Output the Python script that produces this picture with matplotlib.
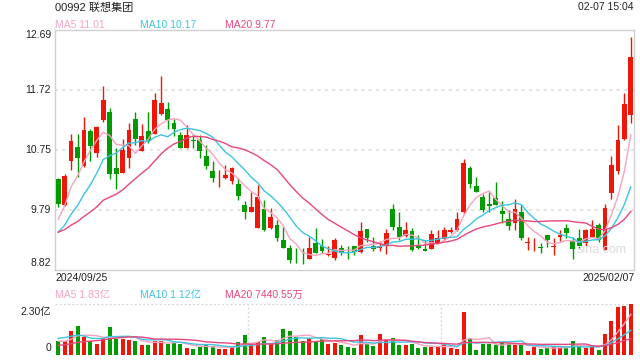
import numpy as np
import matplotlib.pyplot as plt

plt.rcParams['font.family'] = ['Liberation Sans', 'Noto Sans CJK SC', 'DejaVu Sans']

# ---------------- data ----------------
opens = [10.29, 9.87, 10.58, 10.80, 10.50, 11.06, 10.71, 11.24, 11.37, 10.47,
         10.39, 10.63, 11.26, 10.74, 11.06, 11.01, 11.34, 11.42, 11.19, 11.00,
         10.79, 10.91, 10.91, 10.66, 10.42, 10.28, 10.31, 10.26, 10.21, 9.87,
         9.75, 9.50, 9.80, 9.50, 9.55, 9.30, 9.17, 9.05, 9.00, 9.00,
         9.25, 9.20, 9.06, 9.02, 9.17, 9.13, 9.20, 9.11, 9.48, 9.21,
         9.17, 9.20, 9.80, 9.52, 9.37, 9.45, 9.20, 9.16, 9.16, 9.25,
         9.32, 9.43, 9.47, 9.76, 10.46, 10.18, 10.00, 9.89, 9.98, 9.77,
         9.65, 9.57, 9.75, 9.26, 9.25, 9.19, 9.39, 9.19, 9.35, 9.50,
         9.29, 9.33, 9.25, 9.36, 9.55, 9.14, 10.06, 10.41, 10.94, 11.32]
highs = [10.30, 10.37, 11.01, 11.01, 11.28, 11.09, 11.14, 11.79, 11.44, 10.78,
         10.94, 11.19, 11.37, 11.17, 11.37, 11.67, 11.95, 11.53, 11.26, 11.04,
         11.16, 11.00, 11.00, 10.84, 10.58, 10.44, 10.52, 10.48, 10.30, 9.93,
         10.08, 10.19, 9.95, 9.82, 9.63, 9.52, 9.22, 9.17, 9.18, 9.35,
         9.49, 9.32, 9.21, 9.33, 9.23, 9.21, 9.20, 9.60, 9.48, 9.36,
         9.28, 9.48, 9.88, 9.76, 9.60, 9.49, 9.38, 9.31, 9.47, 9.46,
         9.52, 9.52, 9.75, 10.61, 10.50, 10.32, 10.05, 10.07, 10.24, 9.93,
         9.79, 9.96, 9.87, 9.35, 9.33, 9.25, 9.39, 9.33, 9.47, 9.56,
         9.35, 9.48, 9.48, 9.63, 9.58, 9.89, 10.66, 11.16, 11.67, 12.57]
lows = [9.84, 9.85, 10.44, 10.32, 10.48, 10.57, 10.65, 11.21, 10.29, 10.13,
        10.39, 10.47, 10.84, 10.74, 10.86, 11.01, 11.32, 11.09, 10.98, 10.78,
        10.79, 10.78, 10.63, 10.45, 10.24, 10.16, 10.28, 10.21, 9.95, 9.65,
        9.75, 9.50, 9.45, 9.48, 9.29, 9.17, 8.93, 8.94, 8.92, 9.00,
        9.09, 9.10, 9.05, 8.98, 9.06, 8.99, 9.06, 9.10, 9.27, 9.13,
        9.12, 9.08, 9.47, 9.30, 9.36, 9.12, 9.16, 9.12, 9.16, 9.25,
        9.31, 9.41, 9.45, 9.73, 10.15, 10.08, 9.76, 9.76, 9.87, 9.57,
        9.47, 9.47, 9.31, 9.14, 9.13, 9.09, 9.19, 9.06, 9.29, 9.33,
        8.99, 9.17, 9.21, 9.36, 9.27, 9.14, 9.96, 10.37, 10.92, 11.19]
closes = [9.88, 10.33, 10.90, 10.62, 11.08, 10.82, 11.13, 11.56, 10.36, 10.36,
          10.76, 11.08, 10.93, 10.98, 10.90, 11.56, 11.51, 11.24, 11.09, 10.78,
          11.00, 10.90, 10.74, 10.50, 10.31, 10.29, 10.35, 10.47, 10.02, 9.76,
          9.83, 10.00, 9.47, 9.68, 9.33, 9.17, 8.98, 9.04, 8.99, 9.17,
          9.09, 9.12, 9.07, 9.30, 9.09, 9.12, 9.11, 9.45, 9.33, 9.16,
          9.21, 9.42, 9.52, 9.36, 9.47, 9.14, 9.17, 9.13, 9.40, 9.33,
          9.47, 9.47, 9.64, 10.54, 10.21, 10.08, 9.79, 9.85, 9.87, 9.72,
          9.53, 9.80, 9.34, 9.27, 9.26, 9.18, 9.30, 9.20, 9.38, 9.41,
          9.16, 9.20, 9.47, 9.48, 9.30, 9.82, 10.51, 10.92, 11.50, 12.25]
# volume in 亿
volumes = [0.63, 0.63, 1.08, 1.31, 0.81, 0.63, 0.51, 0.75, 1.26, 0.71,
           0.72, 0.66, 0.65, 0.45, 0.45, 0.65, 0.65, 0.51, 0.53, 0.51,
           0.33, 0.27, 0.38, 0.45, 0.41, 0.27, 0.27, 0.33, 0.60, 0.90,
           0.50, 0.57, 0.83, 0.50, 0.68, 1.17, 1.08, 0.83, 0.65, 0.75,
           0.65, 0.72, 0.50, 0.56, 0.45, 0.36, 0.32, 0.90, 0.50, 0.41,
           0.95, 0.71, 0.77, 0.45, 0.45, 0.50, 0.32, 0.36, 0.38, 0.36,
           0.47, 0.32, 0.27, 1.94, 0.72, 0.23, 0.50, 0.50, 0.45, 0.53,
           0.50, 0.45, 0.50, 0.18, 0.38, 0.27, 0.33, 0.36, 0.33, 0.33,
           0.63, 0.45, 0.33, 0.36, 0.23, 0.95, 1.55, 2.15, 2.20, 2.30]

# closes / volumes of the 19 sessions before the window (for moving averages)
prior_closes = [9.50, 9.48, 9.45, 9.42, 9.40, 9.45, 9.43, 9.40, 9.38, 9.39,
                9.20, 9.15, 9.22, 9.25, 9.28, 9.25, 9.38, 9.74, 9.95]
prior_volumes = [0.15, 0.12, 0.10, 0.13, 0.11, 0.14, 0.12, 0.10, 0.13, 0.12,
                 0.30, 0.45, 0.80, 1.20, 1.60, 0.70, 0.60, 0.52, 0.70]

price_ticks = [12.69, 11.72, 10.75, 9.79, 8.82]
vol_max = 2.30
start_date = '2024/09/25'
end_date = '2025/02/07'
title = '00992 联想集团'
stamp = '02-07 15:04'
ma_names = ['MA5', 'MA10', 'MA20']
price_ma_labels = ['11.01', '10.17', '9.77']
vol_ma_labels = ['1.83亿', '1.12亿', '7440.55万']

RED = '#ee1509'
GREEN = '#009b00'
C_MA5 = '#f7a3c0'
C_MA10 = '#3cc4e3'
C_MA20 = '#e8467c'
TXT = '#222222'
FS = 7.5


def moving_avg(prior, values, n):
    full = np.array(prior + values)
    out = np.convolve(full, np.ones(n) / n, mode='valid')
    return out[-len(values):]


n = len(closes)
x = np.arange(n)
o, h, l, c = map(np.array, (opens, highs, lows, closes))
up = c >= o
colors = np.where(up, RED, GREEN)

fig = plt.figure(figsize=(6.4, 3.6), dpi=100)
W, H = 640, 360


def fpos(px, py):
    return px / W, 1 - py / H


# ---------------- price panel ----------------
ax = fig.add_axes([55 / W, 90 / H, 579 / W, 240 / H])
ax.set_xlim(-0.5, n - 0.5)
ax.set_ylim(price_ticks[-1], price_ticks[0])
for t in price_ticks[1:-1]:
    ax.axhline(t, color='#e3e3e3', lw=1.5, ls=(0, (1.5, 2)), zorder=0)

ax.vlines(x, l, h, colors=colors, lw=1, zorder=2)
body_lo = np.minimum(o, c)
body_h = np.maximum(np.abs(c - o), 0.012)
ax.bar(x, body_h, bottom=body_lo, width=0.75, color=colors, lw=0, zorder=3)

ma_colors = [C_MA5, C_MA10, C_MA20]
for win, col in zip((5, 10, 20), ma_colors):
    ax.plot(x, moving_avg(prior_closes, closes, win), color=col, lw=1, zorder=4)

ax.set_xticks([])
ax.set_yticks([])
for s in ax.spines.values():
    s.set_color('#d0d0d0')
    s.set_linewidth(1)

fig.text(*fpos(602, 250), 'sina.com', ha='center', va='center',
         fontsize=9, color='#dcdcdc', zorder=1)

# price labels
for i, t in enumerate(price_ticks):
    dy = 0
    if i == 0:
        dy = 5
    elif i == len(price_ticks) - 1:
        dy = -7
    yy = 30 + (price_ticks[0] - t) / (price_ticks[0] - price_ticks[-1]) * 240 + dy
    fig.text(*fpos(51, yy), f'{t:.2f}', ha='right', va='center', fontsize=FS, color=TXT)

# ---------------- volume panel ----------------
vax = fig.add_axes([55 / W, 5 / H, 579 / W, 51 / H])
vax.set_xlim(-0.5, n - 0.5)
vax.set_ylim(0, vol_max)
vax.bar(x, volumes, width=0.62, color=colors, lw=0, zorder=2)
for win, col in zip((5, 10, 20), ma_colors):
    vax.plot(x, moving_avg(prior_volumes, volumes, win), color=col, lw=1, zorder=3)
for yy in (0, vol_max):
    vax.axhline(yy, color='#d8d8d8', lw=1, ls=(0, (1.5, 1.5)), zorder=0)
for xx in (n / 3 - 0.5, 2 * n / 3 - 0.5):
    vax.axvline(xx, color='#d8d8d8', lw=1, ls=(0, (1.5, 1.5)), zorder=0)
vax.set_xticks([])
vax.set_yticks([])
for s in vax.spines.values():
    s.set_visible(False)

fig.text(*fpos(51, 312), f'{vol_max:.2f}亿', ha='right', va='center', fontsize=FS, color=TXT)
fig.text(*fpos(51, 348), '0', ha='right', va='center', fontsize=FS, color=TXT)

# ---------------- header / legends ----------------
fig.text(*fpos(55, 7.5), title, ha='left', va='center', fontsize=8, color=TXT)
fig.text(*fpos(634, 7.5), stamp, ha='right', va='center', fontsize=FS, color=TXT)

legend_x = [55, 140, 225]
for px, name, val, col in zip(legend_x, ma_names, price_ma_labels, ma_colors):
    fig.text(*fpos(px, 24.5), f'{name} {val}', ha='left', va='center', fontsize=FS, color=col)
for px, name, val, col in zip(legend_x, ma_names, vol_ma_labels, ma_colors):
    fig.text(*fpos(px, 295), f'{name} {val}', ha='left', va='center', fontsize=FS, color=col)

fig.text(*fpos(55, 278), start_date, ha='left', va='center', fontsize=FS, color=TXT)
fig.text(*fpos(635, 278), end_date, ha='right', va='center', fontsize=FS, color=TXT)

plt.savefig('out.png', dpi=100)
